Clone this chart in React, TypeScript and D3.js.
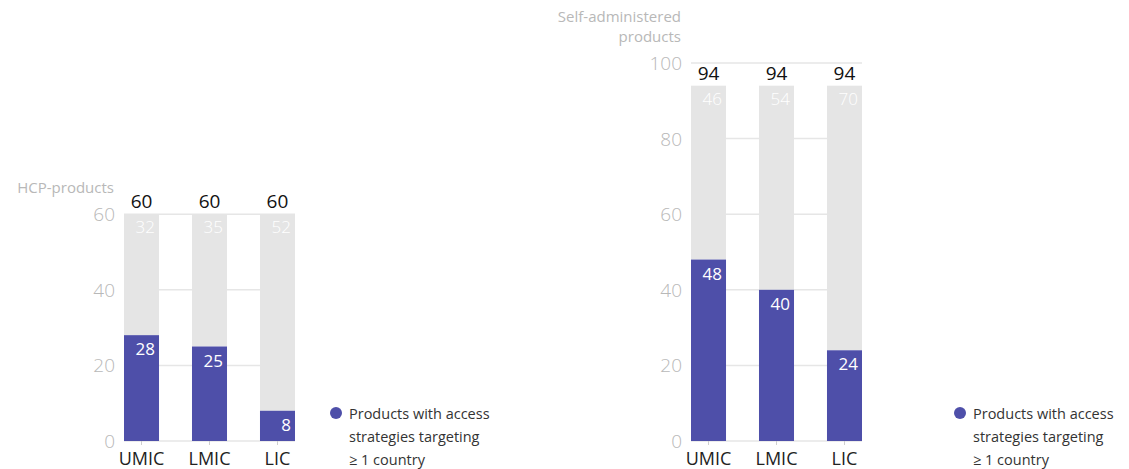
import { useEffect, useRef } from "react"
import * as d3 from "d3"

const categories = ["UMIC", "LMIC", "LIC"]

// HCP-administered products
const hcpTargeted = [28, 25, 8]
const hcpOther = [32, 35, 52]
const hcpTotal = [60, 60, 60]
const hcpTicks = [0, 20, 40, 60]

// Self-administered products
const selfTargeted = [48, 40, 24]
const selfOther = [46, 54, 70]
const selfTotal = [94, 94, 94]
const selfTicks = [0, 20, 40, 60, 80, 100]

const legendLines = ["Products with access", "strategies targeting", "≥ 1 country"]

const PURPLE = "#4e4fa9"
const GREY = "#e5e5e5"
const GRID = "#e6e6e6"
const TICK_TEXT = "#b8b8b8"
const FONT = "'Open Sans', Lato, sans-serif"

interface PanelConfig {
  x0: number
  x1: number
  title: string[]
  targeted: number[]
  other: number[]
  total: number[]
  ticks: number[]
  legendX: number
}

export default function App() {
  const svgRef = useRef<SVGSVGElement>(null)

  useEffect(() => {
    if (!svgRef.current) return
    const root = d3.select(svgRef.current)
    root.selectAll("*").remove()

    // same vertical scale for both panels
    const y = d3.scaleLinear().domain([0, 100]).range([441, 63])

    const panels: PanelConfig[] = [
      {
        x0: 124,
        x1: 295,
        title: ["HCP-products"],
        targeted: hcpTargeted,
        other: hcpOther,
        total: hcpTotal,
        ticks: hcpTicks,
        legendX: 336,
      },
      {
        x0: 691,
        x1: 862,
        title: ["Self-administered", "products"],
        targeted: selfTargeted,
        other: selfOther,
        total: selfTotal,
        ticks: selfTicks,
        legendX: 960,
      },
    ]

    panels.forEach((p) => {
      const g = root.append("g")
      const x = d3
        .scaleBand()
        .domain(categories)
        .range([p.x0, p.x1])
        .paddingInner(0.485)
        .paddingOuter(0)

      // grid lines
      g.selectAll(".grid")
        .data(p.ticks)
        .enter()
        .append("line")
        .attr("x1", p.x0)
        .attr("x2", p.x1)
        .attr("y1", (d) => y(d))
        .attr("y2", (d) => y(d))
        .attr("stroke", GRID)
        .attr("stroke-width", 1.5)

      // tick labels
      g.selectAll(".ytick")
        .data(p.ticks)
        .enter()
        .append("text")
        .attr("x", p.x0 - 9)
        .attr("y", (d) => y(d) + 7)
        .attr("text-anchor", "end")
        .attr("fill", TICK_TEXT)
        .attr("font-family", FONT)
        .attr("font-size", 19)
        .attr("font-weight", 300)
        .text((d) => d)

      // axis title
      const titleBottom = y(d3.max(p.ticks) as number) - 21
      p.title.forEach((line, i) => {
        g.append("text")
          .attr("x", p.x0 - 10)
          .attr("y", titleBottom - (p.title.length - 1 - i) * 20)
          .attr("text-anchor", "end")
          .attr("fill", TICK_TEXT)
          .attr("font-family", FONT)
          .attr("font-size", 15)
          .text(line)
      })

      const rows = categories.map((c, i) => ({
        cat: c,
        targeted: p.targeted[i],
        other: p.other[i],
        total: p.total[i],
      }))

      // grey remainder (stacked on top)
      g.selectAll(".other")
        .data(rows)
        .enter()
        .append("rect")
        .attr("x", (d) => x(d.cat) || 0)
        .attr("width", x.bandwidth())
        .attr("y", (d) => y(d.targeted + d.other))
        .attr("height", (d) => y(d.targeted) - y(d.targeted + d.other))
        .attr("fill", GREY)

      // purple targeted part
      g.selectAll(".targeted")
        .data(rows)
        .enter()
        .append("rect")
        .attr("x", (d) => x(d.cat) || 0)
        .attr("width", x.bandwidth())
        .attr("y", (d) => y(d.targeted))
        .attr("height", (d) => y(0) - y(d.targeted))
        .attr("fill", PURPLE)

      // value labels inside segments
      g.selectAll(".otherLabel")
        .data(rows)
        .enter()
        .append("text")
        .attr("x", (d) => (x(d.cat) || 0) + x.bandwidth() - 4)
        .attr("y", (d) => y(d.targeted + d.other) + 19)
        .attr("text-anchor", "end")
        .attr("fill", "#ffffff")
        .attr("font-family", FONT)
        .attr("font-size", 17)
        .attr("font-weight", 300)
        .text((d) => d.other)

      g.selectAll(".targetedLabel")
        .data(rows)
        .enter()
        .append("text")
        .attr("x", (d) => (x(d.cat) || 0) + x.bandwidth() - 4)
        .attr("y", (d) => y(d.targeted) + 20)
        .attr("text-anchor", "end")
        .attr("fill", "#ffffff")
        .attr("font-family", FONT)
        .attr("font-size", 17)
        .text((d) => d.targeted)

      // totals above bars
      g.selectAll(".totalLabel")
        .data(rows)
        .enter()
        .append("text")
        .attr("x", (d) => (x(d.cat) || 0) + x.bandwidth() / 2)
        .attr("y", (d) => y(d.total) - 6)
        .attr("text-anchor", "middle")
        .attr("fill", "#111")
        .attr("font-family", FONT)
        .attr("font-size", 19)
        .text((d) => d.total)

      // category ticks and labels
      g.selectAll(".xtick")
        .data(categories)
        .enter()
        .append("line")
        .attr("x1", (d) => (x(d) || 0) + x.bandwidth() / 2)
        .attr("x2", (d) => (x(d) || 0) + x.bandwidth() / 2)
        .attr("y1", y(0))
        .attr("y2", y(0) + 4)
        .attr("stroke", "#cfcfcf")

      g.selectAll(".xlabel")
        .data(categories)
        .enter()
        .append("text")
        .attr("x", (d) => (x(d) || 0) + x.bandwidth() / 2)
        .attr("y", y(0) + 24)
        .attr("text-anchor", "middle")
        .attr("fill", "#222")
        .attr("font-family", FONT)
        .attr("font-size", 18)
        .text((d) => d)

      // legend
      const legend = g.append("g").attr("transform", `translate(${p.legendX},413)`)
      legend.append("circle").attr("cx", 0).attr("cy", 0).attr("r", 6).attr("fill", PURPLE)
      legendLines.forEach((line, i) => {
        legend
          .append("text")
          .attr("x", 13)
          .attr("y", 6 + i * 23)
          .attr("fill", "#333")
          .attr("font-family", FONT)
          .attr("font-size", 14.5)
          .text(line)
      })
    })
  }, [])

  return (
    <svg
      ref={svgRef}
      width={1129}
      height={469}
      style={{ position: "absolute", left: 0, top: 0, background: "#fff" }}
    />
  )
}
